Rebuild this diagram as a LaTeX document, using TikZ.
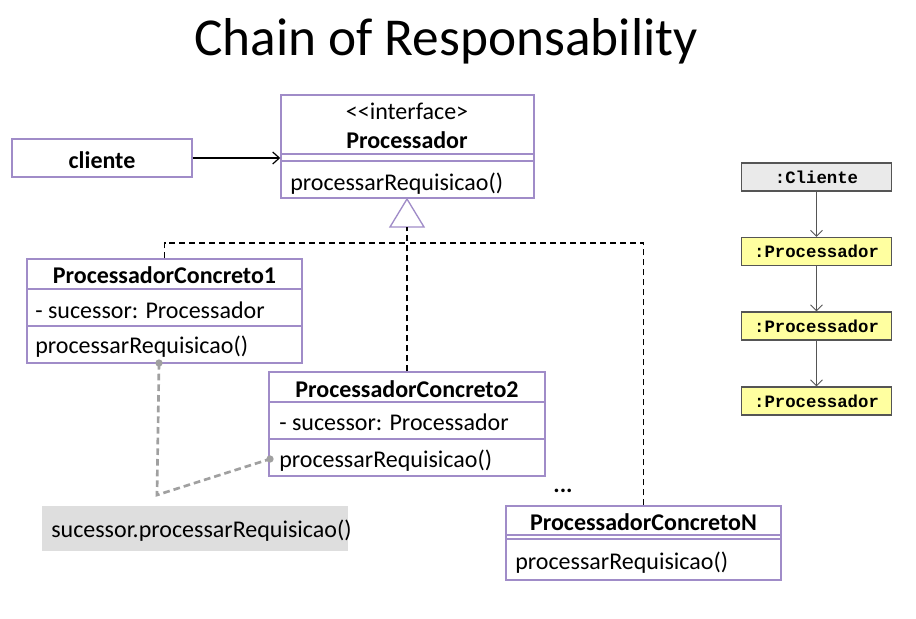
\documentclass[tikz,border=0pt]{standalone}
\usepackage{fontspec}
\setmainfont{Carlito}
\newfontfamily\monof{Liberation Mono}
\usetikzlibrary{arrows.meta,fit}
\definecolor{umlborder}{RGB}{160,140,200}
\definecolor{notegray}{RGB}{222,222,222}
\definecolor{linkgray}{RGB}{160,160,160}
\definecolor{objgray}{RGB}{234,234,234}
\definecolor{objyellow}{RGB}{255,255,160}
\definecolor{objborder}{RGB}{85,85,85}
\tikzset{
  umlbox/.style={draw=umlborder, line width=1.1pt, inner sep=0pt},
  sepline/.style={draw=umlborder, line width=1.1pt},
  txt/.style={font=\fontsize{18pt}{20pt}\selectfont, inner sep=0pt},
  btxt/.style={font=\fontsize{18pt}{20pt}\selectfont\bfseries, inner sep=0pt},
  realize/.style={draw=black, line width=0.8pt, dash pattern=on 4.5pt off 3pt},
  notelink/.style={draw=linkgray, line width=2pt, dash pattern=on 5pt off 3pt},
  notedot/.style={circle, fill=linkgray, inner sep=0pt, minimum size=5.5pt},
  objbox/.style={draw=objborder, line width=0.8pt, minimum width=113pt, minimum height=21pt, inner sep=0pt, font=\monof\bfseries\fontsize{13pt}{15pt}\selectfont},
  objlink/.style={draw=objborder, line width=0.7pt, -{Straight Barb[length=4.5pt,width=9pt]}},
}
\begin{document}
\begin{tikzpicture}[x=0.75pt,y=-0.75pt]
\useasboundingbox (0,0) rectangle (916,618);
\fill[white] (0,0) rectangle (916,618);

% title
\node[inner sep=0pt, anchor=base, font=\fontsize{40pt}{44pt}\selectfont] (title) at (446,55) {Chain of Responsability};

% cliente
\node[umlbox, fit={(12,139)(192,177)}] (cliente) {};
\node[btxt, anchor=base] (clientetxt) at (102,168) {cliente};

% Processador interface
\node[umlbox, fit={(281,95)(534,198)}] (proc) {};
\draw[sepline] (281,154) -- (534,154);
\draw[sepline] (281,161) -- (534,161);
\node[txt, anchor=base] (proctype) at (407,119) {<\kern0pt<interface>};
\node[btxt, anchor=base] (procname) at (407,148) {Processador};
\node[txt, anchor=base west] (procm) at (290,190) {processarRequisicao()};

\draw[line width=0.9pt, -{Straight Barb[length=5pt,width=9pt]}] (cliente.east) -- (cliente.east -| proc.west);

% inheritance triangle
\coordinate (tri) at (407,227);
\coordinate (bus) at (407,243);
\draw[draw=umlborder, line width=1pt, fill=white] (407,199) -- (424,227) -- (390,227) -- cycle;

% ProcessadorConcreto1
\node[umlbox, fit={(27,259)(302,363)}] (pc1) {};
\draw[sepline] (27,289) -- (302,289);
\draw[sepline] (27,326) -- (302,326);
\node[btxt, anchor=base] (pc1name) at (164.5,283) {ProcessadorConcreto1};
\node[txt, anchor=base west] (pc1attr) at (35,318) {- sucessor: Processador};
\node[txt, anchor=base west] (pc1m) at (35,353) {processarRequisicao()};

% ProcessadorConcreto2
\node[umlbox, fit={(269,372)(545,476)}] (pc2) {};
\draw[sepline] (269,402) -- (545,402);
\draw[sepline] (269,439) -- (545,439);
\node[btxt, anchor=base] (pc2name) at (407,397) {ProcessadorConcreto2};
\node[txt, anchor=base west] (pc2attr) at (279,430) {- sucessor: Processador};
\node[txt, anchor=base west] (pc2m) at (279,467) {processarRequisicao()};

% ProcessadorConcretoN
\node[umlbox, fit={(506,506)(781,580)}] (pcN) {};
\draw[sepline] (506,535) -- (781,535);
\draw[sepline] (506,539) -- (781,539);
\node[btxt, anchor=base] (pcNname) at (643.5,530) {ProcessadorConcretoN};
\node[txt, anchor=base west] (pcNm) at (515,569) {processarRequisicao()};

\node[btxt, anchor=base] (dots) at (563,492) {...};

% realization connectors
\draw[realize] (pc2.north) -- (tri);
\draw[realize] (pc1.north) |- (bus);
\draw[realize] (pcN.north) |- (bus);

% note
\node[fill=notegray, inner sep=0pt, fit={(42,506)(348,551)}] (note) {};
\node[txt, anchor=base west] (notetxt) at (51,537) {sucessor.processarRequisicao()};
\node[notedot] (d1) at (159,363) {};
\node[notedot] (d2) at (270,459) {};
\coordinate (bend) at (157,495);
\draw[notelink] (d1.center) -- (bend) -- (d2.center);

% object chain
\node[objbox, fill=objgray] (oc) at (816.5,177) {:Cliente};
\node[objbox, fill=objyellow] (op1) at (816.5,251.5) {:Processador};
\node[objbox, fill=objyellow] (op2) at (816.5,326) {:Processador};
\node[objbox, fill=objyellow] (op3) at (816.5,401) {:Processador};
\draw[objlink] (oc) -- (op1);
\draw[objlink] (op1) -- (op2);
\draw[objlink] (op2) -- (op3);
\end{tikzpicture}
\end{document}
